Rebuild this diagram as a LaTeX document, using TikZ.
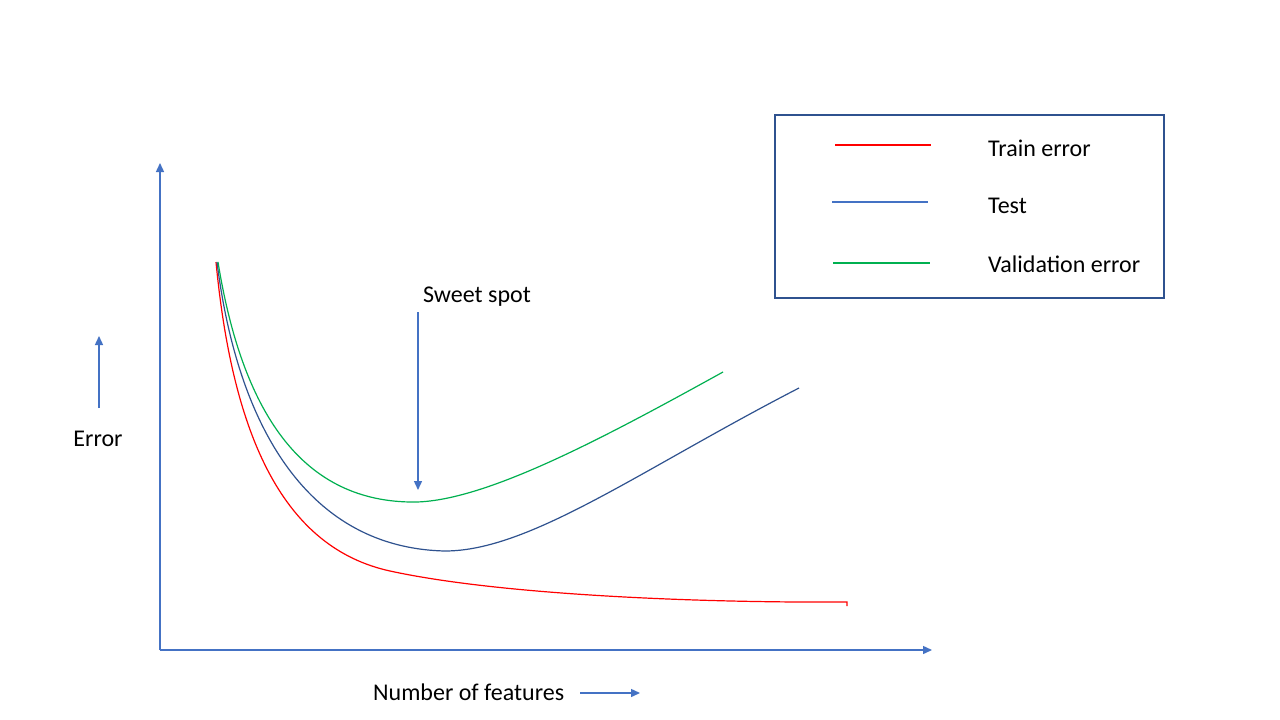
\documentclass[tikz,border=0pt]{standalone}
\usepackage{fontspec}
\setmainfont{Carlito}
\usetikzlibrary{arrows.meta}
\definecolor{axisblue}{HTML}{4472C4}
\definecolor{navy}{HTML}{2F528F}
\definecolor{validgreen}{HTML}{00B050}
\tikzset{
  axisarrow/.style={line width=1.4pt, color=axisblue, -{Triangle[length=9pt,width=8pt]}},
  curve/.style={line width=1.2pt},
  label/.style={font=\fontsize{24}{28}\selectfont, inner sep=0pt}
}
\begin{document}
\begin{tikzpicture}[x=1pt,y=-1pt]
			%%%%% START %%%%%
			\useasboundingbox[fill=white] (0,0) rectangle (1280,720);
			
			% axes
			\coordinate (origin) at (160,650);
			\coordinate (ytop) at (160,163);
			\coordinate (xend) at (932,650);
			\draw[axisarrow] (origin) -- (ytop);
			\draw[axisarrow] (origin) -- (xend);
			
			% axis labels
			\node[label] (errlbl) at (98,439) {Error};
			\coordinate (errfoot) at (99,408);
			\coordinate (errtip) at (99,336);
			\draw[axisarrow] (errfoot) -- (errtip);
			
			\node[label, anchor=west] (featlbl) at (373,692) {Number of features};
			\coordinate (featfoot) at (580,693);
			\coordinate (feattip) at (640,693);
			\draw[axisarrow] (featfoot) -- (feattip);
			
			% sweet spot
			\node[label] (sweet) at (477,297) {Sweet spot};
			\coordinate (sweetfoot) at (418,312);
			\coordinate (sweettip) at (418,490);
			\draw[axisarrow] (sweetfoot) -- (sweettip);
			
			% train error
			\draw[curve, red] (216,262) .. controls (233,440) and (285,548) .. (390,571)
			  .. controls (500,595) and (700,603) .. (847,602) -- (847,606);
			
			% test
			\draw[curve, navy] (217,262) .. controls (238,430) and (310,548) .. (445,551)
			  .. controls (530,551) and (640,470) .. (799,388);
			
			% validation error
			\draw[curve, validgreen] (218,262) .. controls (242,410) and (300,500) .. (410,502)
			  .. controls (480,504) and (600,440) .. (723,372);
			
			% legend
			\draw[line width=1.2pt, color=navy] (775,115) rectangle (1164,298);
			\draw[line width=1.2pt, red] (835,145) -- (931,145);
			\draw[line width=1.2pt, axisblue] (832,202) -- (928,202);
			\draw[line width=1.2pt, validgreen] (833,263) -- (930,263);
			\node[label, anchor=west] (trainlbl) at (988,148) {Train error};
			\node[label, anchor=west] (testlbl) at (988,206) {Test};
			\node[label, anchor=west] (validlbl) at (988,264) {Validation error};
			
			%%%%% END %%%%%
\end{tikzpicture}
\end{document}
